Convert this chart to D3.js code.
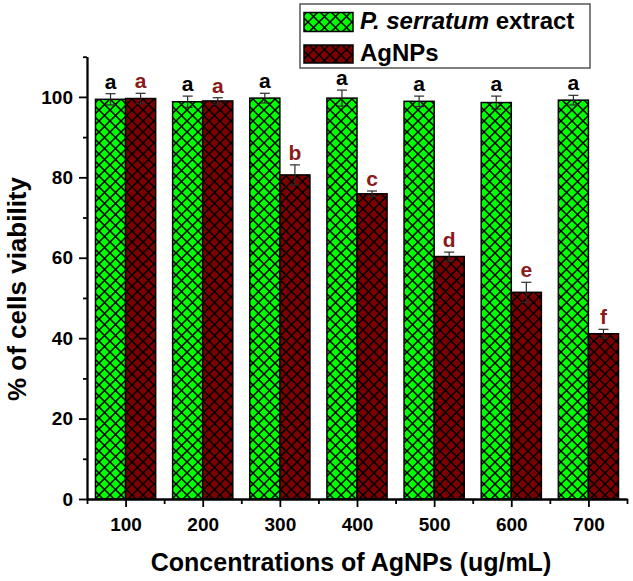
<!DOCTYPE html>
<html>
<head>
<meta charset="utf-8">
<script src="https://cdn.jsdelivr.net/npm/d3@7"></script>
<style>
  body { margin: 0; background: #fff; }
  text { font-family: "Liberation Sans", Arial, sans-serif; font-weight: bold; }
</style>
</head>
<body>
<script>
'use strict';

// concentrations (ug/mL)
const concentrations = [100, 200, 300, 400, 500, 600, 700];
// P. serratum extract
const extractMeans = [99.4, 98.8, 99.7, 99.7, 98.9, 98.6, 99.2];
const extractErrors = [1.4, 1.4, 1.2, 2.0, 1.3, 1.6, 1.2];
const extractLetters = ['a', 'a', 'a', 'a', 'a', 'a', 'a'];
// AgNPs
const agnpMeans = [99.6, 99.0, 80.6, 75.9, 60.3, 51.4, 41.1];
const agnpErrors = [1.3, 0.8, 2.5, 0.7, 1.1, 2.5, 1.1];
const agnpLetters = ['a', 'a', 'b', 'c', 'd', 'e', 'f'];

const yMajorTicks = [0, 20, 40, 60, 80, 100];
const yMinorTicks = [10, 30, 50, 70, 90, 110];
const xMinorTicks = [50, 150, 250, 350, 450, 550, 650, 750];

(function () {
  let svg = "";

  window.onload = function () {
    svg = d3.select('body')
      .append('svg')
      .attr('width', 633)
      .attr('height', 581);

    makeChart();
  };

  function makeChart() {
    let xScale = d3.scaleLinear().domain([50, 750]).range([87, 627]);
    let yScale = d3.scaleLinear().domain([0, 110]).range([499, 56.7]);

    // hatch patterns
    let defs = svg.append('defs');
    makePattern(defs, 'hatchGreen', '#00ff00');
    makePattern(defs, 'hatchRed', '#7d0000');

    let series = [
      { means: extractMeans, errors: extractErrors, letters: extractLetters, fill: 'url(#hatchGreen)', letterColor: '#000', side: -1 },
      { means: agnpMeans, errors: agnpErrors, letters: agnpLetters, fill: 'url(#hatchRed)', letterColor: '#8b1a1a', side: 1 }
    ];

    let barW = xScale(139) - xScale(100);

    series.forEach(function (s) {
      let rows = concentrations.map((c, i) => ({ c: c, v: s.means[i], e: s.errors[i], l: s.letters[i] }));
      let left = (d) => s.side < 0 ? xScale(d.c) - barW : xScale(d.c);
      let mid = (d) => left(d) + barW / 2;

      // bars
      svg.append('g').selectAll('rect')
        .data(rows)
        .enter()
        .append('rect')
        .attr('x', left)
        .attr('y', d => yScale(d.v))
        .attr('width', barW)
        .attr('height', d => yScale(0) - yScale(d.v))
        .attr('fill', s.fill)
        .attr('stroke', '#000')
        .attr('stroke-width', 1.5);

      // error bars
      let err = svg.append('g')
        .attr('stroke', '#2a2a2a')
        .attr('stroke-width', 1.2);
      rows.forEach(function (d) {
        let top = yScale(d.v + d.e), bot = yScale(d.v - d.e), m = mid(d);
        err.append('line').attr('x1', m).attr('x2', m).attr('y1', top).attr('y2', bot);
        err.append('line').attr('x1', m - 5).attr('x2', m + 5).attr('y1', top).attr('y2', top);
        err.append('line').attr('x1', m - 5).attr('x2', m + 5).attr('y1', bot).attr('y2', bot);
      });

      // significance letters
      svg.append('g').selectAll('text')
        .data(rows)
        .enter()
        .append('text')
        .attr('x', mid)
        .attr('y', d => yScale(d.v + d.e) - 5)
        .attr('text-anchor', 'middle')
        .attr('fill', s.letterColor)
        .style('font-size', '21px')
        .text(d => d.l);
    });

    drawAxes(xScale, yScale);
    makeLegend();
    makeLabels();
  }

  function makePattern(defs, id, color) {
    let p = defs.append('pattern')
      .attr('id', id)
      .attr('patternUnits', 'userSpaceOnUse')
      .attr('width', 11)
      .attr('height', 11);
    p.append('rect').attr('width', 11).attr('height', 11).attr('fill', color);
    p.append('path')
      .attr('d', 'M0,0L11,11M11,0L0,11')
      .attr('stroke', '#000')
      .attr('stroke-width', 1.5);
  }

  function drawAxes(xScale, yScale) {
    // y axis major ticks + labels
    let yAxis = d3.axisLeft(yScale).tickValues(yMajorTicks).tickSize(8).tickSizeOuter(0).tickPadding(6);
    let gy = svg.append('g').attr('transform', 'translate(87, 0)').call(yAxis);
    // y minor ticks
    let gy2 = svg.append('g').attr('transform', 'translate(87, 0)')
      .call(d3.axisLeft(yScale).tickValues(yMinorTicks).tickSize(4).tickSizeOuter(0).tickFormat(''));

    // x axis
    let xAxis = d3.axisBottom(xScale).tickValues(concentrations).tickSize(8).tickSizeOuter(0).tickPadding(11);
    let gx = svg.append('g').attr('transform', 'translate(0, 499)').call(xAxis);
    let gx2 = svg.append('g').attr('transform', 'translate(0, 499)')
      .call(d3.axisBottom(xScale).tickValues(xMinorTicks).tickSize(5).tickSizeOuter(0).tickFormat(''));

    [gy, gy2, gx, gx2].forEach(function (g) {
      g.selectAll('path, line').attr('stroke', '#000').attr('stroke-width', 1.8);
      g.selectAll('text')
        .attr('fill', '#000')
        .style('font-family', '"Liberation Sans", Arial, sans-serif')
        .style('font-weight', 'bold')
        .style('font-size', '19px');
    });
  }

  function makeLegend() {
    let lg = svg.append('g');
    lg.append('rect')
      .attr('x', 300).attr('y', 4)
      .attr('width', 290).attr('height', 64)
      .attr('fill', '#fff')
      .attr('stroke', '#555')
      .attr('stroke-width', 1.5);

    lg.append('rect')
      .attr('x', 304).attr('y', 12.5)
      .attr('width', 49).attr('height', 19)
      .attr('fill', 'url(#hatchGreen)')
      .attr('stroke', '#000').attr('stroke-width', 1.5);
    lg.append('rect')
      .attr('x', 304).attr('y', 45)
      .attr('width', 49).attr('height', 18)
      .attr('fill', 'url(#hatchRed)')
      .attr('stroke', '#000').attr('stroke-width', 1.5);

    let t1 = lg.append('text')
      .attr('x', 360).attr('y', 29)
      .style('font-size', '24px');
    t1.append('tspan').style('font-style', 'italic').text('P. serratum');
    t1.append('tspan').text(' extract');

    lg.append('text')
      .attr('x', 360).attr('y', 61)
      .style('font-size', '24px')
      .text('AgNPs');
  }

  function makeLabels() {
    svg.append('text')
      .attr('x', 351)
      .attr('y', 571)
      .attr('text-anchor', 'middle')
      .style('font-size', '25px')
      .text('Concentrations of AgNPs (ug/mL)');

    svg.append('text')
      .attr('transform', 'translate(26, 289)rotate(-90)')
      .attr('text-anchor', 'middle')
      .style('font-size', '26px')
      .text('% of cells viability');
  }
})();
</script>
</body>
</html>
